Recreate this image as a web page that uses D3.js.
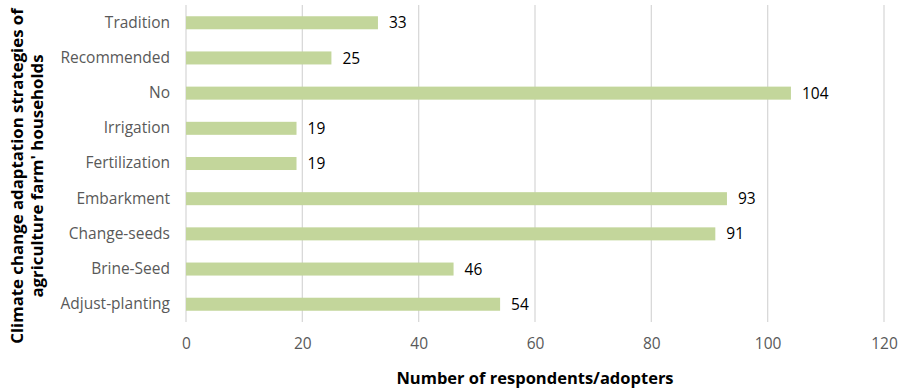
<!DOCTYPE html>
<html>
<head>
<meta charset="utf-8">
<script src="https://cdn.jsdelivr.net/npm/d3@7"></script>
<style>
  body { margin: 0; background: #fff; }
  text { font-family: "Open Sans", Lato, sans-serif; }
</style>
</head>
<body>
<svg id="chart" width="905" height="390"></svg>
<script>
// Strategies, listed top to bottom
const categories = ["Tradition", "Recommended", "No", "Irrigation", "Fertilization",
                    "Embarkment", "Change-seeds", "Brine-Seed", "Adjust-planting"];
const respondents = [33, 25, 104, 19, 19, 93, 91, 46, 54];
const xTicks = [0, 20, 40, 60, 80, 100, 120];

const FONT = "'Open Sans', Lato, sans-serif";
const svg = d3.select("#chart");
const margin = { top: 5, right: 21, bottom: 68, left: 186 };
const width = 905 - margin.left - margin.right;
const height = 390 - margin.top - margin.bottom;

const g = svg.append("g").attr("transform", `translate(${margin.left},${margin.top})`);

const x = d3.scaleLinear().domain([0, 120]).range([0, width]);
const y = d3.scaleBand().domain(categories).range([0, height]).paddingInner(0.63).paddingOuter(0.32);

// vertical gridlines
g.selectAll("line.grid").data(xTicks).join("line")
  .attr("class", "grid")
  .attr("x1", d => x(d)).attr("x2", d => x(d))
  .attr("y1", 0).attr("y2", height)
  .attr("stroke", "#d9d9d9").attr("stroke-width", 1.3);

// x axis tick labels
const xAxis = d3.axisBottom(x).tickValues(xTicks).tickSize(0).tickPadding(16);
const xg = g.append("g").attr("transform", `translate(0,${height})`).call(xAxis);
xg.select(".domain").remove();
xg.selectAll("text").attr("font-size", 15.5).attr("fill", "#595959").attr("font-family", FONT);

// y axis category labels
const yAxis = d3.axisLeft(y).tickSize(0).tickPadding(16);
const yg = g.append("g").call(yAxis);
yg.select(".domain").remove();
yg.selectAll("text").attr("font-size", 15.5).attr("fill", "#595959").attr("font-family", FONT);

// bars
g.selectAll("rect.bar").data(categories).join("rect")
  .attr("class", "bar")
  .attr("x", x(0))
  .attr("y", d => y(d))
  .attr("width", (d, i) => x(respondents[i]) - x(0))
  .attr("height", y.bandwidth())
  .attr("fill", "#c3d69b");

// value labels
g.selectAll("text.val").data(categories).join("text")
  .attr("class", "val")
  .attr("x", (d, i) => x(respondents[i]) + 11)
  .attr("y", d => y(d) + y.bandwidth() / 2)
  .attr("dy", "0.36em")
  .attr("font-size", 15.5)
  .attr("fill", "#000")
  .text((d, i) => respondents[i]);

// axis titles
svg.append("text")
  .attr("x", margin.left + x(60))
  .attr("y", 384)
  .attr("text-anchor", "middle")
  .attr("font-size", 16.5).attr("font-weight", "bold").attr("fill", "#000")
  .text("Number of respondents/adopters");

const yTitle = svg.append("text")
  .attr("transform", `translate(23,176) rotate(-90)`)
  .attr("text-anchor", "middle")
  .attr("font-size", 16.8).attr("font-weight", "bold").attr("fill", "#000");
yTitle.append("tspan").attr("x", 0).attr("dy", "0").text("Climate change adaptation strategies of");
yTitle.append("tspan").attr("x", 0).attr("dy", "20").text("agriculture farm' households");
</script>
</body>
</html>
